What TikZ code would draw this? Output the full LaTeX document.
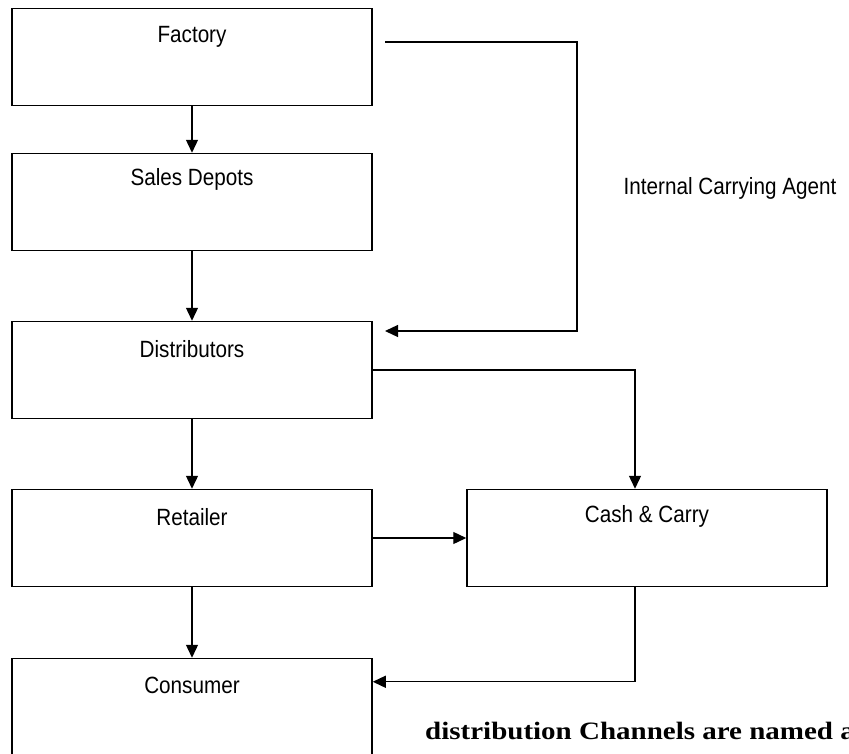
\documentclass[tikz,border=0pt]{standalone}
\usepackage{fontspec}
\setmainfont{Liberation Serif}
\setsansfont{Liberation Sans}
\newfontfamily\stagefont[FakeStretch=0.88]{Liberation Sans}
\newfontfamily\notefont[FakeStretch=1.16]{Liberation Serif}
\usetikzlibrary{arrows.meta}

\tikzset{
  stage/.style={draw, line width=1.5pt, minimum width=360pt, minimum height=97pt, inner sep=0pt},
  stagename/.style={font=\stagefont\fontsize{23.5}{27}\selectfont},
  flow/.style={line width=1.3pt, -{Triangle[length=13pt,width=12pt]}}
}

\begin{document}
\begin{tikzpicture}[x=1pt,y=-1pt]
	\clip (0,0) rectangle (849,753);
	% left column
	\node (factory) [stage] at (192,57) {};
	\node (depots) [stage] at (192,202) {};
	\node (distrib) [stage] at (192,370) {};
	\node (retailer) [stage] at (192,538) {};
	\node (consumer) [stage] at (192,707) {};
	\node (cash) [stage] at (647,538) {};
	\node (factorytxt) [stagename] at ([yshift=-29pt]factory.north) {Factory};
	\node (depotstxt) [stagename] at ([yshift=-27pt]depots.north) {Sales Depots};
	\node (distribtxt) [stagename] at ([yshift=-28pt]distrib.north) {Distributors};
	\node (retailertxt) [stagename] at ([yshift=-28pt]retailer.north) {Retailer};
	\node (consumertxt) [stagename] at ([yshift=-28pt]consumer.north) {Consumer};
	\node (cashtxt) [stagename] at ([yshift=-28pt]cash.north) {Cash \& Carry};
	\node (agent) [stagename] at (730,188) {Internal Carrying Agent};
	\node (note) [anchor=base west, inner sep=0pt, font=\notefont\bfseries\fontsize{25}{30}\selectfont] at (425,739) {distribution Channels are named a};
	\coordinate (agentout) at (385,42);
	\coordinate (agentin) at (385,331);
	\draw[flow] (factory) -- (depots);
	\draw[flow] (depots) -- (distrib);
	\draw[flow] (distrib) -- (retailer);
	\draw[flow] (retailer) -- (consumer);
	\draw[flow] (retailer) -- (cash);
	\draw[flow] (agentout) -| (577,331) -- (agentin);
	\draw[flow] (distrib.east) -| ([xshift=-12pt]cash.north);
	\draw[flow] ([xshift=-12pt]cash.south) |- ([yshift=-24pt]consumer.north east);
\end{tikzpicture}
\end{document}
